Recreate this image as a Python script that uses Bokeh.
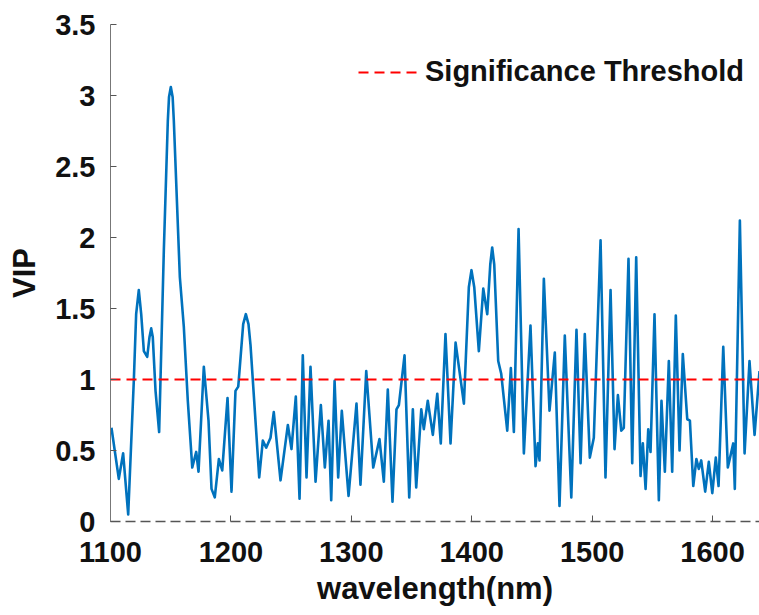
from bokeh.plotting import figure
from bokeh.models import FixedTicker, Legend, LegendItem, Range1d
from bokeh.embed import file_html
from bokeh.resources import INLINE

# ---- data ----
wavelength = [
    1100.8, 1106.9, 1110.5, 1114.7, 1119.4, 1121.3, 1123.5, 1125.5, 1127.7, 1130.5,
    1132.4, 1133.8, 1135.1, 1137.4, 1140.4, 1144.3, 1147.6, 1148.6, 1150.1, 1151.6,
    1152.6, 1157.6, 1160.9, 1164.2, 1167.9, 1171.2,
    1173.1, 1177.5, 1181.4, 1183.9, 1186.6, 1190.0, 1192.8, 1197.2, 1200.5, 1203.8,
    1206.1, 1210.2, 1212.4, 1214.6, 1216.3, 1223.5, 1226.5, 1229.3, 1232.9, 1235.6,
    1241.2, 1247.3,
    1250.3, 1253.9, 1257.0, 1259.7, 1262.8, 1266.1, 1270.3, 1274.7, 1278.0, 1281.1,
    1283.3, 1286.1, 1289.1, 1292.1, 1297.7, 1304.3, 1307.6, 1312.4, 1318.2, 1323.4,
    1327.0, 1330.3, 1334.2, 1337.5, 1339.5, 1344.2, 1348.1, 1351.1, 1353.9, 1358.1,
    1360.2, 1363.5, 1367.7, 1371.4, 1374.3, 1378.2, 1382.4, 1386.6, 1393.5, 1397.6,
    1399.8, 1402.1,
    1405.9, 1409.6, 1412.9, 1415.4, 1417.0, 1418.7, 1422.0, 1424.5, 1429.5, 1432.5,
    1435.0, 1438.9,
    1443.3, 1448.8, 1453.0, 1454.9, 1456.3, 1459.9, 1464.6, 1469.0, 1472.9, 1477.3,
    1482.7, 1487.0, 1490.4, 1493.9, 1498.1, 1501.4, 1507.0, 1511.1, 1515.3, 1518.6,
    1521.4, 1524.2, 1526.3, 1530.2, 1533.3, 1536.6, 1540.2, 1542.1, 1544.4, 1546.6,
    1548.5, 1551.8, 1555.4, 1557.6, 1560.4, 1563.7, 1566.5, 1569.5, 1572.6, 1575.3,
    1579.0, 1581.2, 1584.0, 1586.6, 1588.6, 1590.6, 1593.9, 1596.9, 1599.8, 1602.7,
    1605.0, 1608.9, 1612.7, 1617.2, 1618.5, 1622.7, 1626.6, 1630.7, 1634.9, 1639.0,
]
vip = [
    0.66, 0.30, 0.48, 0.05, 1.00, 1.46, 1.63, 1.46, 1.20, 1.16,
    1.30, 1.36, 1.30, 0.92, 0.63, 1.91, 2.82, 2.99, 3.06, 2.99,
    2.82, 1.72, 1.37, 0.85, 0.38, 0.49,
    0.35, 1.09, 0.71, 0.23, 0.17, 0.44, 0.36, 0.87, 0.21, 0.92,
    0.95, 1.39, 1.46, 1.39, 1.24, 0.31, 0.57, 0.52, 0.59, 0.77,
    0.29, 0.68,
    0.51, 0.88, 0.16, 1.17, 0.31, 1.09, 0.28, 0.82, 0.38, 0.71,
    0.15, 0.99, 0.31, 0.78, 0.18, 0.83, 0.26, 1.06, 0.38, 0.58,
    0.28, 0.93, 0.14, 0.79, 0.82, 1.17, 0.17, 0.79, 0.24, 0.79,
    0.65, 0.85, 0.61, 0.90, 0.55, 1.32, 0.55, 1.26, 0.83, 1.65,
    1.77, 1.65,
    1.20, 1.64, 1.46, 1.81, 1.93, 1.81, 1.13, 1.04, 0.64, 1.08,
    0.63, 2.06,
    0.48, 1.38, 0.39, 0.55, 0.43, 1.71, 0.78, 1.19, 0.11, 1.31,
    0.17, 1.35, 0.41, 1.32, 0.45, 0.59, 1.98, 0.31, 1.63, 0.51,
    0.89, 0.64, 0.66, 1.85, 0.41, 1.86, 0.32, 0.55, 0.23, 0.65,
    0.49, 1.46, 0.15, 0.85, 0.35, 1.13, 0.35, 1.45, 0.50, 1.18,
    0.72, 0.71, 0.25, 0.44, 0.37, 0.43, 0.21, 0.42, 0.20, 0.45,
    0.25, 1.23, 0.38, 0.55, 0.23, 2.12, 0.48, 1.13, 0.61, 1.06,
]
threshold = 1.0
x_ticks = [1100, 1200, 1300, 1400, 1500, 1600]
y_ticks = [0, 0.5, 1, 1.5, 2, 2.5, 3, 3.5]
y_tick_labels = ["0", "0.5", "1", "1.5", "2", "2.5", "3", "3.5"]
x_title = "wavelength(nm)"
y_title = "VIP"
legend_label = "Significance Threshold"

FONT = "Liberation Sans"
TEXT = "#111111"

p = figure(width=759, height=607, frame_width=649, frame_height=497,
           output_backend="svg", toolbar_location=None,
           x_range=Range1d(1100, 1639), y_range=Range1d(0, 3.5),
           min_border_left=110, min_border_right=0, min_border_top=24,
           min_border_bottom=86)
p.outline_line_color = None
p.grid.visible = False
p.background_fill_color = "white"
p.border_fill_color = "white"

p.line(wavelength, vip, line_color="#0072BD", line_width=2.6, line_join="round")
thr = p.line([1100, 1639], [threshold, threshold], line_color="#FF0000",
             line_width=2, line_dash="10 6")

# axes
for ax in (p.xaxis[0], p.yaxis[0]):
    ax.major_label_text_font = FONT
    ax.major_label_text_font_style = "bold"
    ax.major_label_text_font_size = "29px"
    ax.major_label_text_color = TEXT
    ax.axis_label_text_font = FONT
    ax.axis_label_text_font_style = "bold"
    ax.axis_label_text_color = TEXT
    ax.major_tick_in = 6
    ax.major_tick_out = 0
    ax.minor_tick_in = 0
    ax.minor_tick_out = 0
    ax.major_tick_line_color = "#555555"

p.xaxis.ticker = FixedTicker(ticks=x_ticks)
p.yaxis.ticker = FixedTicker(ticks=y_ticks)
p.yaxis.major_label_overrides = {t: l for t, l in zip(y_ticks, y_tick_labels)}

p.xaxis.axis_label = x_title
p.xaxis.axis_label_text_font_size = "31px"
p.xaxis.major_label_standoff = 20
p.xaxis.axis_label_standoff = 6
p.xaxis.axis_line_color = "#555555"
p.xaxis.axis_line_width = 1.5
p.xaxis.axis_line_dash = "10 5"

p.yaxis.axis_label = y_title
p.yaxis.axis_label_text_font_size = "31px"
p.yaxis.major_label_standoff = 15
p.yaxis.axis_label_standoff = 10
p.yaxis.axis_line_color = "#777777"

legend = Legend(items=[LegendItem(label=legend_label, renderers=[thr])],
                location=(248, 433))
legend.label_text_font = FONT
legend.label_text_font_style = "bold"
legend.label_text_font_size = "29px"
legend.label_text_color = TEXT
legend.border_line_alpha = 0
legend.background_fill_alpha = 0
legend.padding = 0
legend.margin = 0
legend.spacing = 0
legend.glyph_width = 62
legend.glyph_height = 24
legend.label_height = 30
legend.label_standoff = 5
p.add_layout(legend)

open("out.html", "w").write(file_html(p, INLINE))
